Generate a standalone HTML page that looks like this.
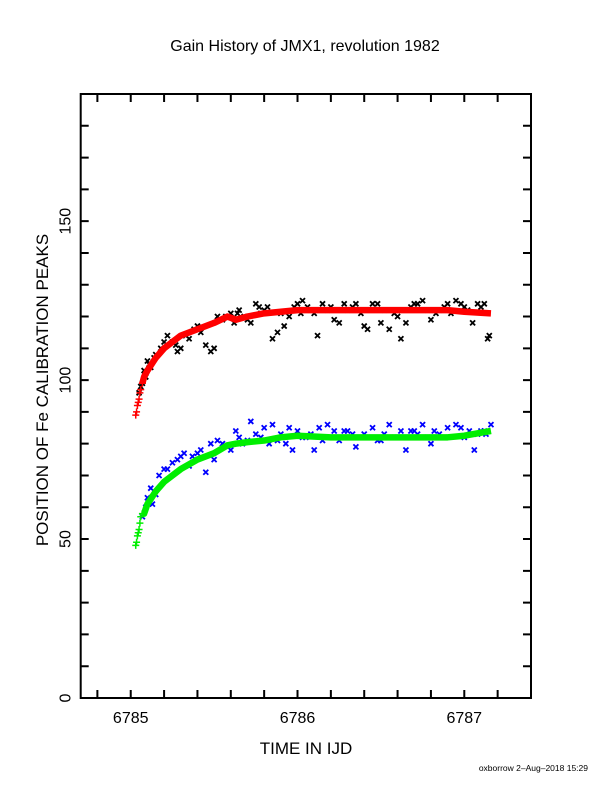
<!DOCTYPE html>
<html><head><meta charset="utf-8"><style>
body{margin:0;background:#fff}
svg{display:block;font-family:"Liberation Sans",Arial,sans-serif}
</style></head><body>
<svg id="chart" width="612" height="792" viewBox="0 0 612 792" xmlns="http://www.w3.org/2000/svg">
<rect width="612" height="792" fill="#fff"/>
<text x="305" y="51" font-size="16" text-anchor="middle">Gain History of JMX1, revolution 1982</text>
<text transform="translate(48,390) rotate(-90)" font-size="17" text-anchor="middle">POSITION OF Fe CALIBRATION PEAKS</text>
<text x="306" y="754" font-size="17" text-anchor="middle">TIME IN IJD</text>
<text x="588" y="771" font-size="8.5" text-anchor="end">oxborrow  2–Aug–2018 15:29</text>
<g id="axes"></g>
<g id="marks"></g>
<rect x="80.7" y="94" width="450.3" height="604" fill="none" stroke="#000" stroke-width="2"/>
</svg>
<script>
const xTicks=[6785,6786,6787];
const yTicks=[0,50,100,150];
const fitX=[6785.08,6785.1,6785.15,6785.2,6785.3,6785.4,6785.5,6785.58,6785.63,6785.7,6785.8,6785.9,6786.0,6786.2,6786.5,6786.8,6786.9,6787.0,6787.16];
const redFit=[101,103,107,110,114,116,118,120,119,120,121,121.5,122,122,122,122,122,121.5,121];
const greenFit=[58,61,65,68,72,75,77,79.5,80,80.5,81,82,82.5,82,82,82,82,82.5,84];
const startX=[6785.03,6785.035,6785.04,6785.045,6785.05,6785.055,6785.06,6785.07];
const redStart=[89,90,92,93,94,96,97,99];
const greenStart=[48,49,51,52,53,55,57,58];
const blackX=[6785.05,6785.07,6785.08,6785.1,6785.12,6785.15,6785.2,6785.22,6785.25,6785.28,6785.3,6785.35,6785.38,6785.4,6785.45,6785.48,6785.5,6785.55,6785.6,6785.62,6785.65,6785.7,6785.72,6785.75,6785.78,6785.82,6785.85,6785.88,6785.92,6785.95,6786.0,6786.03,6786.06,6786.1,6786.12,6786.15,6786.18,6786.22,6786.25,6786.3,6786.35,6786.4,6786.42,6786.45,6786.5,6786.55,6786.58,6786.62,6786.65,6786.7,6786.75,6786.8,6786.85,6786.9,6786.95,6787.0,6787.05,6787.08,6787.12,6787.15,
6785.06,6785.09,6785.11,6785.14,6785.18,6785.27,6785.33,6785.42,6785.52,6785.57,6785.64,6785.68,6785.77,6785.8,6785.9,6785.98,6786.02,6786.08,6786.2,6786.28,6786.33,6786.38,6786.48,6786.52,6786.6,6786.68,6786.72,6786.78,6786.83,6786.88,6786.92,6786.98,6787.02,6787.1,6787.14];
const blackY=[96,99,103,106,104,108,112,114,112,109,110,113,116,117,111,109,110,119,121,118,122,119,118,124,121,123,113,115,117,120,124,125,123,121,114,124,122,119,118,122,124,117,116,124,118,116,121,113,118,124,125,119,122,124,125,123,118,124,124,114,
98,101,105,107,110,111,114,115,120,120,121,120,123,122,121,123,121,122,123,124,123,121,124,122,120,123,124,122,121,123,121,124,122,123,113];
const blueX=[6785.07,6785.1,6785.13,6785.17,6785.2,6785.25,6785.28,6785.32,6785.35,6785.4,6785.45,6785.48,6785.5,6785.55,6785.6,6785.63,6785.67,6785.72,6785.75,6785.8,6785.85,6785.9,6785.93,6785.97,6786.0,6786.05,6786.1,6786.13,6786.18,6786.22,6786.25,6786.3,6786.35,6786.4,6786.45,6786.5,6786.55,6786.58,6786.62,6786.65,6786.7,6786.75,6786.8,6786.85,6786.9,6786.95,6787.0,6787.03,6787.06,6787.1,6787.13,6787.16,
6785.09,6785.12,6785.15,6785.22,6785.3,6785.37,6785.42,6785.52,6785.58,6785.65,6785.7,6785.78,6785.83,6785.88,6785.95,6786.03,6786.08,6786.15,6786.2,6786.28,6786.33,6786.42,6786.48,6786.52,6786.6,6786.68,6786.72,6786.78,6786.82,6786.88,6786.98,6787.08,6787.12];
const blueY=[57,63,61,70,72,74,75,77,73,77,71,80,75,80,78,84,80,87,83,85,86,83,80,78,84,82,78,85,86,84,81,84,79,83,85,81,86,82,84,78,84,86,80,83,85,86,82,84,78,84,83,86,
60,66,64,72,76,76,78,81,79,82,81,82,80,81,85,82,83,81,82,84,83,82,81,83,82,84,83,82,84,82,85,83,84];
const X0=6784.7,X1=6787.4,Y0=0,Y1=190,L=80.7,R=531,T=94,B=698;
const sx=v=>L+(v-X0)/(X1-X0)*(R-L);
const sy=v=>B-(v-Y0)/(Y1-Y0)*(B-T);
const NS='http://www.w3.org/2000/svg';
const axes=document.getElementById('axes'),marks=document.getElementById('marks');
function mk(tag,attrs,parent){const e=document.createElementNS(NS,tag);for(const k in attrs)e.setAttribute(k,attrs[k]);parent.appendChild(e);return e;}
for(let v=6784.8;v<=6787.41;v+=0.2){
  const x=sx(v);
  const t=mk('path',{d:`M${x},${B}v-8M${x},${T}v8`,stroke:'#000','stroke-width':2},axes);
  
  
}
for(let v=10;v<190;v+=10){
  const y=sy(v);
  const t=mk('path',{d:`M${L},${y}h8M${R},${y}h-8`,stroke:'#000','stroke-width':2},axes);
  
  
}
xTicks.forEach(v=>{
  const t=mk('text',{x:sx(v),y:B+25,'font-size':16,'text-anchor':'middle'},axes);
  t.textContent=v;
  
  
});
yTicks.forEach(v=>{
  const t=mk('text',{transform:`translate(${L-10},${sy(v)}) rotate(-90)`,'font-size':16,'text-anchor':'middle'},axes);
  t.textContent=v;
  
  
});
function cross(xs,ys,col,name){
  const g=mk('g',{stroke:col,'stroke-width':1.8},marks);
  
  
  xs.forEach((v,i)=>{const x=sx(v),y=sy(ys[i]);mk('path',{d:`M${x-2.5},${y-2.5}l5,5M${x-2.5},${y+2.5}l5,-5`},g);});
}
function plus(xs,ys,col,name){
  const g=mk('g',{stroke:col,'stroke-width':1.5},marks);
  
  
  xs.forEach((v,i)=>{const x=sx(v),y=sy(ys[i]);mk('path',{d:`M${x-3.5},${y}h7M${x},${y-3.5}v7`},g);});
}
function line(xs,ys,col,name){
  const p=mk('polyline',{points:xs.map((v,i)=>sx(v)+','+sy(ys[i])).join(' '),fill:'none',stroke:col,'stroke-width':6.5,'stroke-linejoin':'round'},marks);
  
  
}
cross(blackX,blackY,'#000','black-peak-points');
cross(blueX,blueY,'#0000ff','blue-peak-points');
plus(startX,redStart,'#ff0000','red-fit-start');
plus(startX,greenStart,'#00ee00','green-fit-start');
line(startX.slice(-1).concat(fitX),redStart.slice(-1).concat(redFit),'#ff0000','red-fit-line');
line(startX.slice(-1).concat(fitX),greenStart.slice(-1).concat(greenFit),'#00ee00','green-fit-line');
</script>
</body></html>
